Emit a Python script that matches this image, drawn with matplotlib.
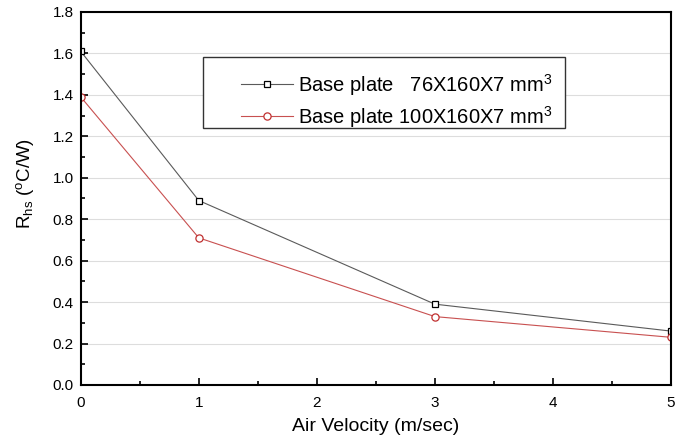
import numpy as np
import matplotlib
matplotlib.use('Agg')
import matplotlib.pyplot as plt
from matplotlib.patches import Rectangle
from matplotlib.ticker import MultipleLocator

plt.rcParams['font.family'] = ['Liberation Sans', 'DejaVu Sans']
plt.rcParams['mathtext.fontset'] = 'custom'
plt.rcParams['mathtext.rm'] = 'Liberation Sans'
plt.rcParams['mathtext.it'] = 'Liberation Sans'

# data
velocity = [0, 1, 3, 5]
rhs_76 = [1.61, 0.89, 0.39, 0.26]
rhs_100 = [1.39, 0.71, 0.33, 0.23]

fig = plt.figure(figsize=(6.84, 4.41), dpi=100)
ax = fig.add_axes([0.118, 0.127, 0.863, 0.846])

ax.plot(velocity, rhs_76, color='#5a5a5a', lw=0.8, marker='s', ms=4.8,
        mfc='white', mec='black', mew=0.9,
        label=r'Base plate   76X160X7 mm$^3$')
ax.plot(velocity, rhs_100, color='#c85050', lw=0.8, marker='o', ms=5.2,
        mfc='white', mec='#c03030', mew=0.9,
        label=r'Base plate 100X160X7 mm$^3$')

ax.set_xlim(0, 5)
ax.set_ylim(0, 1.8)
ax.xaxis.set_major_locator(MultipleLocator(1))
ax.xaxis.set_minor_locator(MultipleLocator(0.5))
ax.yaxis.set_minor_locator(MultipleLocator(0.1))
yt = np.arange(0, 1.81, 0.2)
ax.set_yticks(yt)
ax.set_yticklabels(['%.1f' % v for v in yt])
ax.tick_params(which='both', direction='in', labelsize=11, width=1.2)
ax.tick_params(which='major', length=5)
ax.tick_params(axis='x', which='major', pad=8)
ax.tick_params(axis='y', which='major', pad=5)
ax.tick_params(which='minor', length=3)
ax.grid(axis='y', which='major', color='#dddddd', lw=0.8)
ax.set_axisbelow(True)
for s in ax.spines.values():
    s.set_linewidth(1.5)

ax.set_xlabel('Air Velocity (m/sec)', fontsize=14, labelpad=6)
ax.set_ylabel(r'R$_{\rm hs}$ ($^{\rm o}$C/W)', fontsize=13.5)
ax.yaxis.set_label_coords(-0.076, 0.54)

# legend frame drawn separately (the original box has a wide left margin)
ax.add_patch(Rectangle((0.207, 0.689), 0.613, 0.190, transform=ax.transAxes,
                       fill=True, facecolor='white', edgecolor='#333333',
                       lw=1.0, zorder=4))
leg = ax.legend(loc='center left', bbox_to_anchor=(0.254, 0.762), fontsize=14.5,
                frameon=False, borderpad=0, handlelength=2.6,
                handletextpad=0.25, labelspacing=0.3)
leg.set_zorder(5)

fig.savefig('out.png', dpi=100)
